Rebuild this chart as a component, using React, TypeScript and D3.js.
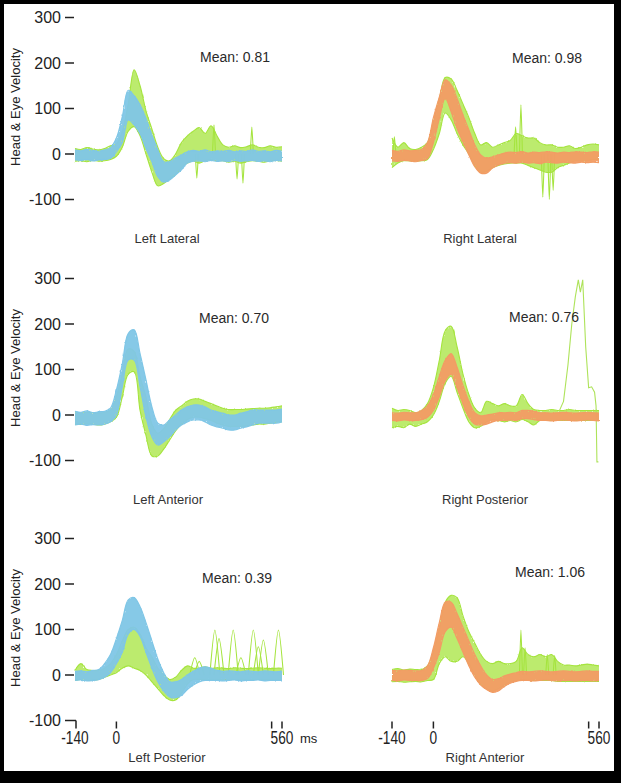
import React from 'react';
import * as d3 from 'd3';

// sample times (ms)
const T = [-140, -120, -100, -80, -60, -40, -20, 0, 20, 40, 60, 80, 100, 120, 140, 160, 180, 200, 220, 240, 260, 280, 300, 320, 340, 360, 380, 400, 420, 440, 460, 480, 500, 520, 540, 560];

// Left Lateral
const llEyeHi = [9, 7, 10, 8, 6, 9, 14, 35, 82, 140, 128, 108, 78, 42, 9, -17, -17, -9, -2, 5, 8, 6, 9, 5, 7, 6, 8, 5, 7, 6, 9, 6, 7, 5, 8, 6];
const llEyeLo = [-13, -14, -12, -15, -13, -12, -10, 5, 25, 75, 64, 45, 12, -17, -50, -62, -57, -46, -35, -20, -16, -15, -17, -14, -16, -15, -17, -14, -16, -15, -14, -16, -15, -17, -14, -15];
const llHeadHi = [12, 10, 14, 11, 9, 12, 18, 22, 50, 110, 185, 150, 95, 55, 15, -10, -15, 0, 25, 40, 50, 58, 45, 62, 40, 20, 15, 18, 14, 16, 20, 15, 14, 18, 15, 16];
const llHeadLo = [-16, -15, -17, -14, -16, -15, -12, -5, 15, 50, 60, 40, 0, -40, -70, -65, -55, -45, -30, -20, -15, -20, -15, -12, -15, -15, -18, -16, -20, -17, -15, -16, -18, -15, -14, -16];
const llSpikes = [[272, -53], [408, -55], [428, -64], [458, 59], [330, 64]];

// Right Lateral
const rlEyeHi = [8, 6, 9, 7, 8, 10, 25, 80, 125, 163, 152, 122, 86, 53, 20, -2, -9, -6, -2, 2, 4, 3, 5, 2, 4, 3, 5, 4, 2, 4, 3, 5, 4, 3, 5, 4];
const rlEyeLo = [-15, -16, -14, -15, -17, -14, -10, 25, 78, 122, 93, 56, 27, -2, -28, -42, -42, -31, -24, -20, -19, -20, -18, -20, -19, -21, -18, -19, -20, -18, -19, -20, -18, -19, -18, -19];
const rlHeadHi = [35, 15, 25, 12, 10, 15, 25, 70, 120, 168, 165, 140, 110, 80, 45, 20, 25, 15, 20, 25, 30, 45, 40, 35, 35, 25, 20, 20, 15, 15, 18, 12, 15, 20, 22, 20];
const rlHeadLo = [-30, -20, -15, -15, -15, -15, -12, 10, 45, 90, 75, 45, 20, 0, -25, -40, -38, -30, -25, -22, -20, -20, -20, -25, -30, -35, -40, -40, -30, -25, -20, -15, -15, -15, -12, -12];
const rlSpikes = [[296, 108], [278, 60], [370, -95], [392, -100], [405, -80], [-132, 38]];

// Left Anterior
const laEyeHi = [8, 6, 9, 5, 7, 8, 15, 55, 113, 179, 187, 135, 77, 18, -18, -22, -11, 0, 11, 18, 22, 22, 18, 11, 7, 4, 0, 0, 4, 7, 11, 11, 11, 11, 11, 13];
const laEyeLo = [-22, -20, -23, -21, -22, -20, -15, 0, 62, 121, 121, 62, -4, -48, -66, -59, -48, -33, -22, -15, -11, -11, -15, -22, -26, -29, -33, -33, -29, -26, -22, -18, -18, -18, -18, -15];
const laHeadHi = [5, 4, 6, 5, 4, 6, 10, 40, 90, 145, 140, 84, 40, -20, -40, -30, -10, 10, 20, 30, 35, 35, 30, 25, 20, 15, 12, 12, 12, 13, 14, 15, 15, 16, 18, 20];
const laHeadLo = [-20, -21, -19, -20, -22, -20, -15, -5, 40, 90, 95, 10, -45, -90, -90, -75, -55, -35, -20, -10, -5, -5, -8, -12, -18, -22, -25, -25, -25, -24, -22, -20, -20, -18, -16, -15];

// Right Posterior
const rpEyeHi = [5, 4, 6, 5, 5, 10, 20, 45, 85, 120, 135, 105, 65, 30, 5, -2, 0, 2, 5, 5, 6, 5, 10, 10, 8, 5, 5, 4, 5, 6, 5, 4, 5, 6, 5, 4];
const rpEyeLo = [-12, -13, -11, -12, -12, -10, -5, 10, 40, 75, 90, 60, 25, -5, -20, -22, -20, -15, -12, -12, -11, -12, -8, -8, -10, -12, -12, -13, -12, -11, -12, -13, -12, -11, -12, -13];
const rpHeadHi = [15, 10, 12, 10, 5, 10, 25, 60, 120, 185, 195, 150, 90, 45, 15, 5, 30, 25, 20, 25, 20, 20, 45, 25, 12, 10, 10, 12, 10, 10, 12, 10, 10, 10, 10, 10];
const rpHeadLo = [-28, -25, -28, -20, -25, -20, -15, 0, 30, 70, 85, 50, 15, -15, -28, -25, -15, -10, -12, -15, -12, -15, -10, -15, -22, -12, -12, -12, -12, -12, -12, -12, -12, -12, -12, -12];
const rpOutlierT = [425, 440, 455, 468, 480, 490, 497, 505, 515, 525, 535, 545, 550, 553, 558];
const rpOutlierV = [8, 30, 110, 200, 260, 297, 270, 297, 150, 60, 62, 50, 20, -103, -103];

// Left Posterior
const lpEyeHi = [8, 9, 7, 10, 12, 25, 45, 80, 120, 165, 170, 150, 115, 75, 35, 5, -15, -15, -10, 0, 8, 15, 18, 15, 10, 8, 9, 8, 7, 9, 8, 7, 9, 8, 7, 8];
const lpEyeLo = [-12, -11, -13, -12, -10, -5, 5, 25, 50, 90, 100, 85, 50, 15, -15, -35, -48, -50, -45, -32, -22, -15, -12, -12, -12, -13, -12, -11, -13, -12, -12, -11, -13, -12, -12, -12];
const lpHeadHi = [10, 25, 12, 10, 10, 15, 25, 45, 75, 100, 105, 90, 60, 40, 15, 0, -10, -5, 10, 20, 15, 15, 18, 15, 16, 15, 14, 16, 15, 14, 15, 16, 15, 14, 15, 15];
const lpHeadLo = [-12, -10, -12, -11, -10, -5, 0, 5, 15, 20, 15, 10, 0, -15, -30, -45, -55, -55, -40, -20, -10, -10, -10, -10, -10, -10, -10, -10, -10, -10, -10, -10, -10, -10, -10, -10];
const lpSpikes = [[265, 38], [280, 30], [333, 99], [347, 80], [395, 99], [421, 38], [463, 99], [480, 62], [497, 77], [548, 99]];

// Right Anterior
const raEyeHi = [10, 9, 11, 10, 9, 10, 20, 60, 115, 160, 160, 135, 105, 75, 45, 20, 0, -10, -8, -2, 2, 5, 8, 7, 8, 9, 8, 7, 8, 9, 8, 7, 8, 9, 8, 8];
const raEyeLo = [-12, -13, -11, -12, -12, -12, -8, 15, 50, 95, 105, 80, 50, 20, -5, -22, -32, -38, -35, -25, -18, -14, -12, -12, -13, -12, -11, -12, -13, -12, -12, -13, -12, -12, -13, -12];
const raHeadHi = [12, 14, 11, 13, 12, 12, 20, 50, 100, 160, 175, 170, 130, 95, 70, 45, 30, 25, 30, 25, 25, 30, 60, 45, 40, 45, 40, 45, 30, 22, 22, 20, 22, 24, 22, 20];
const raHeadLo = [-15, -14, -16, -15, -14, -15, -12, -10, 25, 40, 30, 30, 40, 25, 0, -20, -30, -35, -30, -22, -15, -12, -10, -12, -12, -12, -12, -12, -14, -14, -14, -14, -14, -14, -14, -14];
const raSpikes = [[296, 99], [310, 60], [385, 45], [410, 43]];

const titles = ['Left Lateral', 'Right Lateral', 'Left Anterior', 'Right Posterior', 'Left Posterior', 'Right Anterior'];
const means = ['Mean: 0.81', 'Mean: 0.98', 'Mean: 0.70', 'Mean: 0.76', 'Mean: 0.39', 'Mean: 1.06'];
const yTicks = [300, 200, 100, 0, -100];
const xTicks = [-140, 0, 525, 560];
const xTickLabels = ['-140', '0', '', '560'];

const GREEN = '#a5e43e';
const BLUE = '#7fc6e6';
const ORANGE = '#f29c64';

const ROW_ZERO = [154, 415, 675];
const PX100 = 45.5;

const panels = [
  { row: 0, col: 0, eye: BLUE, eyeHi: llEyeHi, eyeLo: llEyeLo, headHi: llHeadHi, headLo: llHeadLo, spikes: llSpikes, sw: 5, meanPos: [200, 62], titlePos: [167, 243] },
  { row: 0, col: 1, eye: ORANGE, eyeHi: rlEyeHi, eyeLo: rlEyeLo, headHi: rlHeadHi, headLo: rlHeadLo, spikes: rlSpikes, sw: 5, meanPos: [512, 63], titlePos: [480, 243] },
  { row: 1, col: 0, eye: BLUE, eyeHi: laEyeHi, eyeLo: laEyeLo, headHi: laHeadHi, headLo: laHeadLo, spikes: [], sw: 5, meanPos: [199, 323], titlePos: [168, 504] },
  { row: 1, col: 1, eye: ORANGE, eyeHi: rpEyeHi, eyeLo: rpEyeLo, headHi: rpHeadHi, headLo: rpHeadLo, spikes: [], sw: 5, meanPos: [509, 322], titlePos: [485, 504] },
  { row: 2, col: 0, eye: BLUE, eyeHi: lpEyeHi, eyeLo: lpEyeLo, headHi: lpHeadHi, headLo: lpHeadLo, spikes: lpSpikes, sw: 17, meanPos: [202, 583], titlePos: [167, 762] },
  { row: 2, col: 1, eye: ORANGE, eyeHi: raEyeHi, eyeLo: raEyeLo, headHi: raHeadHi, headLo: raHeadLo, spikes: raSpikes, sw: 5, meanPos: [515, 577], titlePos: [485, 762] },
];

export default function App() {
  const xCols = [
    d3.scaleLinear().domain([-140, 560]).range([75, 282]),
    d3.scaleLinear().domain([-140, 560]).range([392, 599]),
  ];
  const yRow = (r: number) => d3.scaleLinear().domain([0, 100]).range([ROW_ZERO[r], ROW_ZERO[r] - PX100]);
  const font = 'Liberation Sans, Arial, sans-serif';

  return (
    <svg width={621} height={783} style={{ position: 'absolute', left: 0, top: 0, display: 'block' }}>
      <defs>
        <filter id="rough" x="-5%" y="-10%" width="110%" height="120%">
          <feTurbulence type="fractalNoise" baseFrequency="0.9 0.3" numOctaves={1} seed={3} result="n" />
          <feDisplacementMap in="SourceGraphic" in2="n" scale={3} xChannelSelector="R" yChannelSelector="G" />
        </filter>
      </defs>
      <rect x={0} y={0} width={621} height={783} fill="#000" />
      <rect x={4} y={4} width={610} height={767} fill="#fff" />

      {panels.map((p, pi) => {
        const x = xCols[p.col];
        const y = yRow(p.row);
        const curve = d3.curveCatmullRom.alpha(0.5);
        const headArea = d3.area<number>()
          .x((_, i) => x(T[i]))
          .y1((d) => y(d))
          .y0((_, i) => y(p.headLo[i]))
          .curve(curve)(p.headHi) || '';
        const eyeArea = d3.area<number>()
          .x((_, i) => x(T[i]))
          .y1((d) => y(d))
          .y0((_, i) => y(p.eyeLo[i]))
          .curve(curve)(p.eyeHi) || '';
        const line = d3.line<number>().x((_, i) => x(T[i])).y((d) => y(d)).curve(curve);
        const spikeLine = d3.line<number[]>().x((d) => x(d[0])).y((d) => y(d[1])).curve(d3.curveCardinal.tension(0.2));
        const outlier = p.row === 1 && p.col === 1
          ? d3.line<number>().x((_, i) => x(rpOutlierT[i])).y((d) => y(d))(rpOutlierV) || ''
          : '';
        return (
          <g key={pi}>
            <g filter="url(#rough)">
              <path d={headArea} fill={GREEN} opacity={0.75} />
            </g>
            <path d={line(p.headHi) || ''} fill="none" stroke={GREEN} strokeWidth={1.1} />
            <path d={line(p.headLo) || ''} fill="none" stroke={GREEN} strokeWidth={1.1} />
            {p.spikes.map((s, si) => (
              <path key={si}
                d={spikeLine([[s[0] - p.sw, 0], [s[0], s[1]], [s[0] + p.sw, 0]]) || ''}
                fill="none" stroke={GREEN} strokeWidth={1.1} />
            ))}
            {outlier && <path d={outlier} fill="none" stroke="#aee35a" strokeWidth={1.1} />}
            <g filter="url(#rough)">
              <path d={eyeArea} fill={p.eye} opacity={0.95} />
            </g>
            <path d={line(p.eyeHi) || ''} fill="none" stroke={p.eye} strokeWidth={1.2} />
            <path d={line(p.eyeLo) || ''} fill="none" stroke={p.eye} strokeWidth={1.2} />
            <text x={p.meanPos[0]} y={p.meanPos[1]} fontFamily={font} fontSize={14} fill="#2a2a2a">{means[pi]}</text>
            <text x={p.titlePos[0]} y={p.titlePos[1]} fontFamily={font} fontSize={13} fill="#333" textAnchor="middle">{titles[pi]}</text>
          </g>
        );
      })}

      {[0, 1, 2].map((r) => {
        const y = yRow(r);
        return (
          <g key={'ya' + r}>
            <text transform={`translate(19.5, ${ROW_ZERO[r] - 47}) rotate(-90)`} textAnchor="middle"
              fontFamily={font} fontSize={13} fill="#222">Head &amp; Eye Velocity</text>
            {yTicks.map((t) => (
              <g key={t}>
                <text x={61} y={y(t) + 5.5} textAnchor="end" fontFamily={font} fontSize={16} fill="#222">{t}</text>
                <line x1={65} x2={r === 2 && t === -100 ? 76 : 74} y1={y(t)} y2={y(t)} stroke="#222" strokeWidth={1.5} />
              </g>
            ))}
          </g>
        );
      })}

      {[0, 1].map((c) => {
        const x = xCols[c];
        const y0 = yRow(2)(-100);
        return (
          <g key={'xa' + c}>
            {xTicks.map((t, i) => (
              <g key={t}>
                <line x1={c === 0 && i === 0 ? x(t) + 1 : x(t)} x2={c === 0 && i === 0 ? x(t) + 1 : x(t)} y1={c === 0 && i === 0 ? y0 : y0 + 1} y2={y0 + 8} stroke="#222" strokeWidth={1.5} />
                {xTickLabels[i] && (
                  <text transform={`translate(${x(t)}, ${y0 + 23}) scale(0.72, 1)`} textAnchor="middle"
                    fontFamily={font} fontSize={19} fill="#222">{xTickLabels[i]}</text>
                )}
              </g>
            ))}
          </g>
        );
      })}
      <text x={300} y={yRow(2)(-100) + 22} fontFamily={font} fontSize={13} fill="#222">ms</text>
    </svg>
  );
}
